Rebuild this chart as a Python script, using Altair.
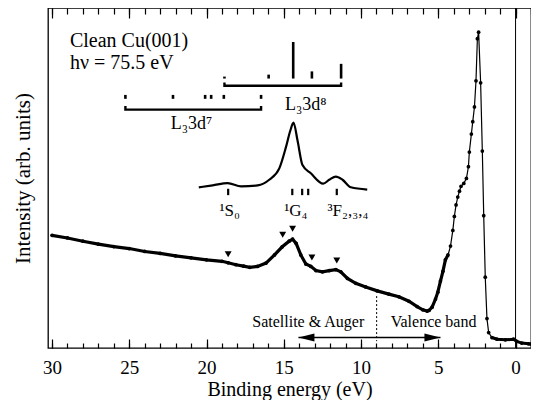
import altair as alt
import pandas as pd

FONT = "Liberation Serif, Times New Roman, Times, DejaVu Serif, serif"

# ---- main spectrum (binding energy eV, intensity arb. units) ----
be = [30.0, 29.0, 28.0, 27.0, 26.0, 25.0, 24.0, 23.0, 22.0, 21.0, 20.0, 19.0,
      18.6, 18.1, 17.6, 17.2, 16.7, 16.15, 15.6, 15.1,
      14.65, 14.43, 14.2, 13.9, 13.57, 13.25, 12.92, 12.5, 12.06, 11.63,
      11.31, 10.88, 10.34, 9.7, 8.95, 8.2, 7.55, 6.9, 6.37, 6.0,
      5.72, 5.6, 5.4, 5.18, 5.03, 4.86, 4.7, 4.54, 4.37, 4.21,
      4.06, 3.96, 3.85, 3.74, 3.63, 3.53, 3.35, 3.18, 3.05, 2.99,
      2.86, 2.77, 2.66, 2.56, 2.47, 2.39, 2.26, 2.15, 2.06, 1.96,
      1.85, 1.74, 1.53, 1.2, 0.66, 0.13, -0.08, -0.4, -0.84, -1.0]
inten = [115, 112.3, 109, 106, 103.5, 101.5, 98.5, 96.5, 94, 92, 90, 88.5,
         87, 85, 83.5, 82.3, 83.3, 86.7, 95, 103.3,
         109, 111, 106.7, 95, 85.7, 83.3, 79, 77.7, 79, 80,
         77.7, 71, 66, 62.3, 58.3, 55, 52.3, 47.7, 42.3, 39,
         37.7, 38.3, 41.7, 50, 57, 68.3, 78.3, 90, 95, 104,
         120, 134.3, 146, 154, 160, 165, 168, 173, 185, 200,
         218.3, 231, 246, 272.7, 315.7, 322.3, 270.7, 201, 135, 72.3,
         30, 15.7, 10.7, 9, 8.3, 9, 6.7, 5, 4.3, 4]

# ---- inset (calculated L3VV Auger) ----
inset_be = [20.5, 19.6, 18.63, 17.76, 16.69, 15.94, 15.29, 14.86, 14.58, 14.37,
            14.11, 13.79, 13.25, 12.45, 12.06, 11.63, 11.2, 10.66, 9.6]
inset_v = [164, 166, 168.3, 165, 166, 171.7, 183.3, 205, 221.7, 230,
           211.7, 186.7, 178.3, 167.7, 171.7, 175, 171.7, 164, 161.7]
term_be = [18.6, 14.45, 13.81, 13.42, 11.57]
term_lo, term_hi = 156, 162.5

# ---- multiplet stick diagrams ----
d8_be = [18.84, 15.98, 14.39, 13.18, 11.29]
d8_top = [277, 279, 312.3, 282.3, 290]
d8_base = 275
d8_bracket, d8_bracket_end = 267.7, 271
d7_be = [25.25, 22.17, 20.09, 19.7, 18.88, 16.47]
d7_lo, d7_hi = 254.3, 258.3
d7_bracket, d7_bracket_end = 243.3, 247

# ---- feature markers ----
tri_be = [18.6, 15.07, 14.43, 13.18, 11.57]
tri_v = [95.7, 115.7, 121.7, 92.3, 89.3]

# ---- annotations ----
header_text = "Clean Cu(001)\nhν = 75.5 eV"
header_be, header_v = 28.84, 307.5

labels_text = ["L₃3d⁸", "L₃3d⁷", "¹S₀", "¹G₄", "³F₂,₃,₄", "Satellite & Auger", "Valence band"]
labels_be = [14.92, 22.32, 19.16, 14.97, 12.17, 17.04, 8.08]
labels_v = [243.3, 223.3, 135, 135, 135, 21, 21]
labels_size = [18, 18, 17, 17, 17, 16, 16]

arrow_be = [14.05, 4.86]
arrow_v = 10.7
divider_be = 8.99
divider_v = [53, 7]
fermi_be = 0

major = [0, 5, 10, 15, 20, 25, 30]
minor = list(range(-1, 31))

xs = alt.Scale(domain=[-1.0, 30.26], reverse=True, nice=False, zero=False)
ys = alt.Scale(domain=[0, 347], nice=False, zero=False)


def X(axis=None, field="be"):
    return alt.X(f"{field}:Q", scale=xs, axis=axis)


def Y(field="v", axis=None):
    return alt.Y(f"{field}:Q", scale=ys, axis=axis)


def tick_axis(orient, size, values):
    return alt.Axis(orient=orient, values=values, labels=False, domain=False, grid=False,
                    ticks=True, tickSize=size, offset=-size, tickColor="black",
                    tickWidth=1.2, title=None)


spec = pd.DataFrame({"be": be, "v": inten})

label_axis = alt.Axis(values=major, ticks=False, tickSize=0, domain=False, grid=False,
                      labelFont=FONT, labelFontSize=19, labelPadding=25.5,
                      labelBaseline="alphabetic", labelColor="black",
                      labelFlush=False, labelOverlap=False,
                      title="Binding energy (eV)", titleFont=FONT, titleFontSize=20,
                      titleFontWeight="normal", titleColor="black",
                      titleBaseline="alphabetic", titleY=47.5)
y_axis = alt.Axis(ticks=False, labels=False, domain=False, grid=False,
                  title="Intensity (arb. units)", titleFont=FONT, titleFontSize=21,
                  titleFontWeight="normal", titleColor="black", titlePadding=15)

thin = alt.Chart(spec).mark_line(color="black", strokeWidth=1.2).encode(
    x=X(label_axis), y=Y(axis=y_axis), order="idx:Q"
).transform_window(idx="row_number()")

thick1 = alt.Chart(spec).transform_filter("datum.be >= 4.3").mark_line(
    color="black", strokeWidth=3.2).encode(x=X(tick_axis("bottom", 9, major)), y=Y())
thick2 = alt.Chart(spec).transform_filter("datum.be <= 1.6").mark_line(
    color="black", strokeWidth=3).encode(x=X(tick_axis("bottom", 5, minor)), y=Y())
dots = alt.Chart(spec).mark_point(filled=True, color="black", size=14, opacity=1).encode(
    x=X(tick_axis("top", 10, major)), y=Y())

inset = alt.Chart(pd.DataFrame({"be": inset_be, "v": inset_v})).mark_line(
    color="black", strokeWidth=2.2, interpolate="monotone").encode(
    x=X(tick_axis("top", 6, minor)), y=Y())

term_df = pd.DataFrame({"be": term_be, "v": [term_lo] * len(term_be), "v2": [term_hi] * len(term_be)})
terms = alt.Chart(term_df).mark_rule(color="black", strokeWidth=2.2).encode(
    x=X(), y=Y(), y2="v2:Q")

d8_df = pd.DataFrame({"be": d8_be, "v": [d8_base] * len(d8_be), "v2": d8_top})
d8 = alt.Chart(d8_df).mark_rule(color="black", strokeWidth=2.6).encode(x=X(), y=Y(), y2="v2:Q")
d7_df = pd.DataFrame({"be": d7_be, "v": [d7_lo] * len(d7_be), "v2": [d7_hi] * len(d7_be)})
d7 = alt.Chart(d7_df).mark_rule(color="black", strokeWidth=2.6).encode(x=X(), y=Y(), y2="v2:Q")

br_rows = []
for gid, (bes, yl, ye) in enumerate([(d8_be, d8_bracket, d8_bracket_end),
                                     (d7_be, d7_bracket, d7_bracket_end)]):
    lo, hi = max(bes), min(bes)
    for k, (b, v) in enumerate([(lo, ye), (lo, yl), (hi, yl), (hi, ye)]):
        br_rows.append({"g": gid, "k": k, "be": b, "v": v})
brackets = alt.Chart(pd.DataFrame(br_rows)).mark_line(color="black", strokeWidth=2.4).encode(
    x=X(), y=Y(), detail="g:N", order="k:Q")

tris = alt.Chart(pd.DataFrame({"be": tri_be, "v": tri_v})).mark_point(
    shape="triangle-down", filled=True, color="black", size=48, opacity=1).encode(x=X(), y=Y())

header = alt.Chart(pd.DataFrame({"t": [header_text], "be": [header_be], "v": [header_v]})).mark_text(
    font=FONT, fontSize=20, align="left", baseline="alphabetic", color="black",
    lineBreak="\n", lineHeight=22.5).encode(x=X(), y=Y(), text="t:N")

lab_df = pd.DataFrame({"t": labels_text, "be": labels_be, "v": labels_v, "s": labels_size})
labels = alt.Chart(lab_df).mark_text(font=FONT, align="left", baseline="alphabetic",
                                     color="black").encode(
    x=X(), y=Y(), text="t:N", size=alt.Size("s:Q", scale=None, legend=None))

arrow_line = alt.Chart(pd.DataFrame({"be": [arrow_be[0]], "be2": [arrow_be[1]],
                                     "v": [arrow_v]})).mark_rule(
    color="black", strokeWidth=1.5).encode(x=X(), x2="be2:Q", y=Y())
head_l = alt.Chart(pd.DataFrame({"be": [arrow_be[0]], "v": [arrow_v]})).mark_point(
    shape="M0,0L2,-0.5L2,0.5Z", filled=True, color="black", size=256, opacity=1).encode(x=X(), y=Y())
head_r = alt.Chart(pd.DataFrame({"be": [arrow_be[1]], "v": [arrow_v]})).mark_point(
    shape="M0,0L-2,-0.5L-2,0.5Z", filled=True, color="black", size=256, opacity=1).encode(x=X(), y=Y())

divider = alt.Chart(pd.DataFrame({"be": [divider_be], "v": [divider_v[0]], "v2": [divider_v[1]]})).mark_rule(
    color="black", strokeWidth=1, strokeDash=[2, 2]).encode(x=X(), y=Y(), y2="v2:Q")

fermi = alt.Chart(pd.DataFrame({"be": [fermi_be]})).mark_rule(color="black", strokeWidth=1).encode(x=X())

chart = alt.layer(
    thin, thick1, thick2, dots, inset, terms, d8, d7, brackets, tris, header, labels,
    arrow_line, head_l, head_r, divider, fermi
).resolve_axis(x="independent", y="independent").properties(
    width=483, height=340, autosize="none",
    padding={"left": 40, "top": 0, "right": 0, "bottom": 52}
).configure_view(stroke="black", strokeWidth=1.3)

chart.save("out.html", embed_options={"renderer": "svg", "actions": False})
